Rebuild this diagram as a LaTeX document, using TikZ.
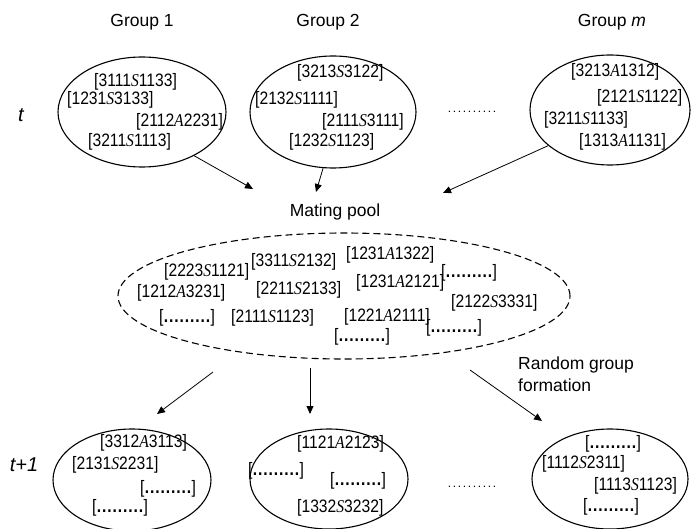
\documentclass[tikz,border=0pt]{standalone}
\usepackage{fontspec}
\setmainfont{Liberation Sans}
\newfontfamily\sit{Liberation Serif}
\usetikzlibrary{arrows.meta,shapes.geometric}
\newcommand\gn[3]{\scalebox{0.87}[1]{[#1{\sit\itshape #2}#3]}}
\newcommand\gd{\scalebox{0.87}[1]{[\hbox to 54pt{\xleaders\hbox to 6pt{\hss\textbf{.}\hss}\hfill}]}}
\begin{document}
\begin{tikzpicture}[x=1pt,y=-1pt,
  grp/.style={draw,ellipse,line width=1.1pt,inner sep=0pt},
  gene/.style={anchor=west,inner sep=0pt,font=\fontsize{18}{18}\selectfont},
  lab/.style={inner sep=0pt,font=\fontsize{17.5}{17.5}\selectfont},
  tlab/.style={inner sep=0pt,font=\fontsize{20}{20}\selectfont\itshape},
  hdots/.style={inner sep=0pt,font=\fontsize{12}{12}\selectfont},
  arr/.style={line width=0.8pt,-{Triangle[length=8pt,width=7pt]}}]
\useasboundingbox (0,0) rectangle (692,529);
% labels
\node[lab] (l1) at (142,22) {Group 1};
\node[lab] (l2) at (328,22) {Group 2};
\node[lab] (lm) at (612,22) {Group \textit{m}};
\node[tlab] (t0) at (21,115) {t};
\node[tlab] (t1) at (24,465) {t+1};
% top ellipses
\node[grp,minimum width=168pt,minimum height=110pt] (g1) at (142,112) {};
\node[grp,minimum width=166pt,minimum height=112pt] (g2) at (333,112) {};
\node[grp,minimum width=160pt,minimum height=110pt] (gm) at (610,110) {};
\node[hdots] (d0) at (472,112) {\hbox to 50pt{\xleaders\hbox to 5pt{\hss.\hss}\hfill}};
% group 1 entries
\node[gene] (a1) at (94,82) {\gn{3111}{S}{1133}};
\node[gene] (a2) at (67,100) {\gn{1231}{S}{3133}};
\node[gene] (a3) at (136,122) {\gn{2112}{A}{2231}};
\node[gene] (a4) at (88,142) {\gn{3211}{S}{1113}};
% group 2 entries
\node[gene] (b1) at (297,73) {\gn{3213}{S}{3122}};
\node[gene] (b2) at (255,100) {\gn{2132}{S}{1111}};
\node[gene] (b3) at (322,122) {\gn{2111}{S}{3111}};
\node[gene] (b4) at (289,142) {\gn{1232}{S}{1123}};
% group m entries
\node[gene] (c1) at (571,72) {\gn{3213}{A}{1312}};
\node[gene] (c2) at (597,98) {\gn{2121}{S}{1122}};
\node[gene] (c3) at (544,120) {\gn{3211}{S}{1133}};
\node[gene] (c4) at (579,142) {\gn{1313}{A}{1131}};
% mating pool
\node[lab] (mp) at (335,212) {Mating pool};
\node[draw,ellipse,dash pattern=on 7pt off 4pt,line width=1.1pt,inner sep=0pt,
      minimum width=452pt,minimum height=126pt] (pool) at (344,296) {};
\node[gene] (p1) at (164,272) {\gn{2223}{S}{1121}};
\node[gene] (p2) at (251,262) {\gn{3311}{S}{2132}};
\node[gene] (p3) at (137,293) {\gn{1212}{A}{3231}};
\node[gene] (p4) at (256,290) {\gn{2211}{S}{2133}};
\node[gene] (p5) at (159,318) {\gd};
\node[gene] (p6) at (231,318) {\gn{2111}{S}{1123}};
\node[gene] (p7) at (346,255) {\gn{1231}{A}{1322}};
\node[gene] (p8) at (356,283) {\gn{1231}{A}{2121}};
\node[gene] (p9) at (441,273) {\gd};
\node[gene] (p10) at (451,303) {\gn{2122}{S}{3331}};
\node[gene] (p11) at (344,317) {\gn{1221}{A}{2111}};
\node[gene] (p12) at (334,337) {\gd};
\node[gene] (p13) at (426,328) {\gd};
% random group formation
\node[lab,anchor=west,align=left] (rg) at (518,374) {Random group\\[4pt]formation};
% bottom ellipses
\node[grp,minimum width=158pt,minimum height=102pt] (n1) at (132,480) {};
\node[grp,minimum width=158pt,minimum height=100pt] (n2) at (329,479) {};
\node[grp,minimum width=156pt,minimum height=100pt] (nm) at (610,479) {};
\node[hdots] (d1) at (472,487) {\hbox to 50pt{\xleaders\hbox to 5pt{\hss.\hss}\hfill}};
\node[gene] (e1) at (100,443) {\gn{3312}{A}{3113}};
\node[gene] (e2) at (72,465) {\gn{2131}{S}{2231}};
\node[gene] (e3) at (140,489) {\gd};
\node[gene] (e4) at (92,508) {\gd};
\node[gene] (f1) at (297,444) {\gn{1121}{A}{2123}};
\node[gene] (f2) at (248,471) {\gd};
\node[gene] (f3) at (330,481) {\gd};
\node[gene] (f4) at (297,508) {\gn{1332}{S}{3232}};
\node[gene] (h1) at (585,444) {\gd};
\node[gene] (h2) at (542,464) {\gn{1112}{S}{2311}};
\node[gene] (h3) at (594,486) {\gn{1113}{S}{1123}};
\node[gene] (h4) at (583,507) {\gd};
% arrow endpoints
\coordinate (a1e) at (253,189);
\coordinate (a2e) at (316,192);
\coordinate (a3e) at (443,193);
\coordinate (b1s) at (213,372);
\coordinate (b2s) at (310,368);
\coordinate (b3s) at (470,370);
\coordinate (b1e) at (157,414);
\coordinate (b2e) at (310,414);
\coordinate (b3e) at (542,421);
\draw[arr] (g1.-40) -- (a1e);
\draw[arr] (g2.-100) -- (a2e);
\draw[arr] (gm.-150) -- (a3e);
\draw[arr] (b1s) -- (b1e);
\draw[arr] (b2s) -- (b2e);
\draw[arr] (b3s) -- (b3e);
\end{tikzpicture}
\end{document}
